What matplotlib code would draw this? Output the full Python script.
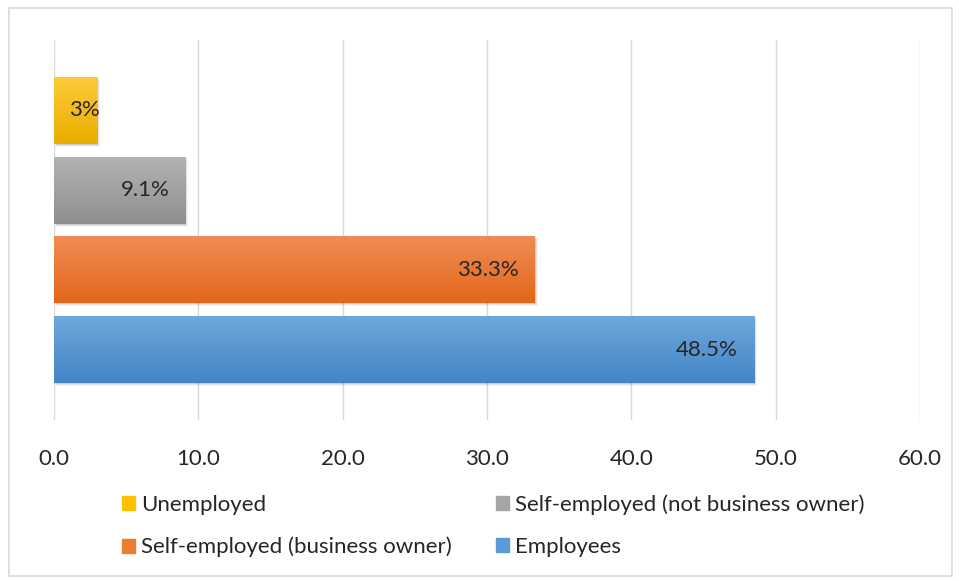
import matplotlib.pyplot as plt
import matplotlib.patches as mpatches
import matplotlib.transforms as mtransforms
import numpy as np

plt.rcParams['font.family'] = ['Lato', 'DejaVu Sans']

# data (bottom to top)
categories = ['Employees', 'Self-employed (business owner)',
              'Self-employed (not business owner)', 'Unemployed']
values = [48.5, 33.3, 9.1, 3.0]
value_labels = ['48.5%', '33.3%', '9.1%', '3%']
xticks = [0, 10, 20, 30, 40, 50, 60]

# top / bottom shades for the gradient fill
top_colors = ['#6fa8dc', '#f08d55', '#b3b3b3', '#ffca3a']
bottom_colors = ['#4385c6', '#e2661a', '#8f8f8f', '#e8ae00']
legend_colors = ['#5b9bd5', '#ed7d31', '#a5a5a5', '#ffc000']

fig = plt.figure(figsize=(9.59, 5.81), dpi=100)
fig.patches.append(mpatches.Rectangle((9 / 959, 5 / 581), 943 / 959, 568 / 581,
                                      transform=fig.transFigure, fill=False,
                                      edgecolor='#d9d9d9', linewidth=1.2))
ax = fig.add_axes([54 / 959, 1 - 420 / 581, 866 / 959, 380 / 581])

y = np.arange(len(categories))
bar_h = 0.84
bars = ax.barh(y, values, height=bar_h, color=legend_colors, zorder=3)

grad = np.linspace(0, 1, 64).reshape(-1, 1)
for i, b in enumerate(bars):
    # soft drop shadow
    for k, a in enumerate([0.10, 0.07, 0.04]):
        off = mtransforms.offset_copy(ax.transData, fig=fig, x=1 + k, y=-(1 + k), units='dots')
        sh = mpatches.Rectangle((0, y[i] - bar_h / 2), values[i], bar_h,
                                transform=off, color='black', alpha=a,
                                linewidth=0, zorder=2)
        ax.add_patch(sh)
    c0 = np.array(plt.matplotlib.colors.to_rgb(top_colors[i]))
    c1 = np.array(plt.matplotlib.colors.to_rgb(bottom_colors[i]))
    img = c0 + (c1 - c0) * grad[:, :, None]
    im = ax.imshow(img, extent=[0, values[i], y[i] - bar_h / 2, y[i] + bar_h / 2],
                   aspect='auto', origin='upper', zorder=3.5, interpolation='bilinear')
    im.set_clip_path(b)

for i, v in enumerate(values):
    dx = -11.5 if v > 5 else 1.5
    ax.annotate(value_labels[i], (v, y[i]), xytext=(dx, 0), textcoords='offset points',
                ha='right', va='center', fontsize=16, color='#262626', zorder=5)

ax.set_xlim(0, 60)
ax.set_ylim(-0.88, 3.88)
ax.set_xticks(xticks)
ax.set_xticklabels([f'{t:.1f}' for t in xticks], fontsize=16, color='#262626')
ax.set_yticks([])
ax.tick_params(axis='x', length=0, pad=21)
ax.grid(axis='x', color='#d9d9d9', linewidth=1, zorder=0)
for s in ax.spines.values():
    s.set_visible(False)

handles = [mpatches.Patch(color=c) for c in legend_colors]
order = [3, 1, 2, 0]
fig.legend([handles[i] for i in order], [categories[i] for i in order],
           ncol=2, loc='upper left', bbox_to_anchor=(102 / 959, 1 - 474 / 581),
           frameon=False, fontsize=16, handlelength=0.6, handleheight=0.6,
           handletextpad=0.25, columnspacing=2.0, labelspacing=1.0,
           labelcolor='#262626')

fig.savefig('out.png', dpi=100)
